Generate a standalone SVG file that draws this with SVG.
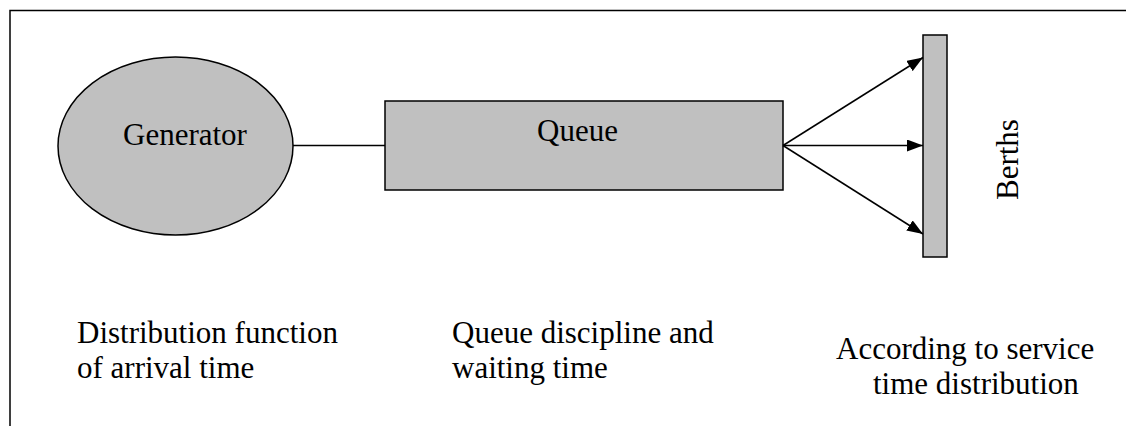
<svg xmlns="http://www.w3.org/2000/svg" width="1126" height="426" viewBox="0 0 1126 426">
  <style>
    .shape { fill: #c0c0c0; stroke: #000; stroke-width: 1.5; }
    .frame { fill: none; stroke: #000; stroke-width: 1.5; }
    .link { fill: none; stroke: #000; stroke-width: 1.5; }
    .label { font-size: 31px; fill: #000; }
  </style>
  <defs>
    <marker id="arrow" viewBox="0 0 16 12" refX="16" refY="6" markerWidth="16" markerHeight="12" markerUnits="userSpaceOnUse" orient="auto">
      <path d="M0,0 L16,6 L0,12 Z" fill="#000"/>
    </marker>
  </defs>

  <!-- outer frame: top and left edges -->
  <path class="frame" d="M10,426 L10,10.5 L1126,10.5"/>

  <g font-family="'Liberation Serif', 'DejaVu Serif', serif">
    <g id="generator">
      <ellipse class="shape" cx="175.5" cy="146" rx="117.5" ry="89"/>
      <text class="label" x="123" y="145">Generator</text>
    </g>

    <g id="queue">
      <rect class="shape" x="385" y="101" width="398" height="89"/>
      <text class="label" x="537" y="141">Queue</text>
    </g>

    <g id="berths">
      <rect class="shape" x="923" y="35" width="24" height="222"/>
      <text class="label" transform="translate(1017.5,200) rotate(-90)">Berths</text>
    </g>

    <g id="connectors">
      <line class="link" x1="293" y1="145.5" x2="385" y2="145.5"/>
      <line class="link" x1="783" y1="145.5" x2="923" y2="57.5" marker-end="url(#arrow)"/>
      <line class="link" x1="783" y1="145.5" x2="923" y2="145.5" marker-end="url(#arrow)"/>
      <line class="link" x1="783" y1="145.5" x2="923" y2="234" marker-end="url(#arrow)"/>
    </g>

    <g id="captions">
      <text class="label" x="77" y="343">Distribution function</text>
      <text class="label" x="77" y="378">of arrival time</text>
      <text class="label" x="452" y="343">Queue discipline and</text>
      <text class="label" x="452" y="378">waiting time</text>
      <text class="label" x="836" y="359">According to service</text>
      <text class="label" x="873" y="394">time distribution</text>
    </g>
  </g>
</svg>
